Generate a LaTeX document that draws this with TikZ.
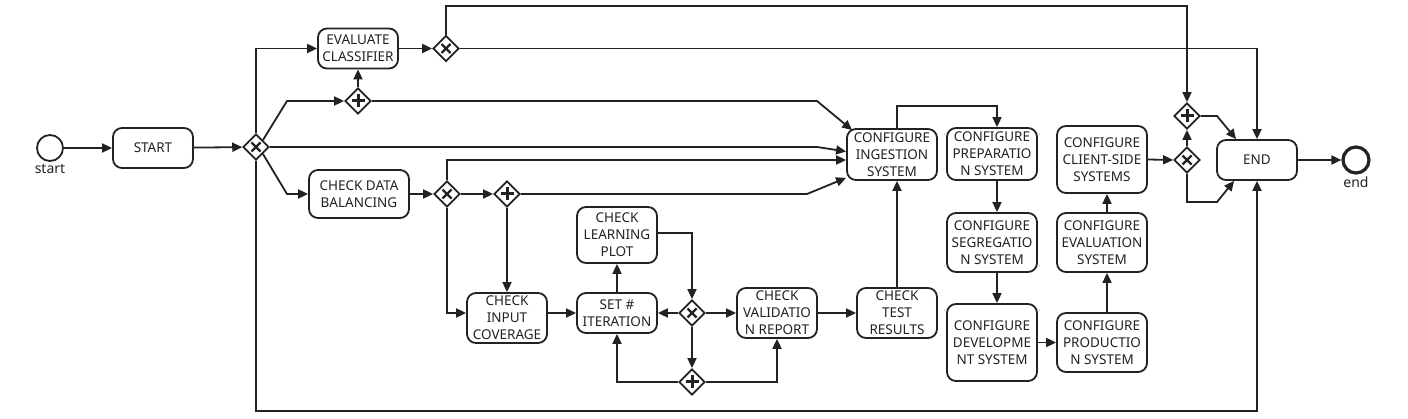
\documentclass[tikz,border=0pt]{standalone}
\usepackage{fontspec}
\setmainfont{Noto Sans}
\usetikzlibrary{arrows.meta,shapes.geometric}
\definecolor{ink}{RGB}{34,34,38}
\begin{document}
\begin{tikzpicture}[x=1pt,y=-1pt,
 task/.style={draw=ink,text=ink,line width=1.8pt,rounded corners=9pt,align=center,inner sep=0pt,font=\fontsize{13.5}{17}\selectfont,fill=white},
 gw/.style={draw=ink,diamond,line width=1.8pt,minimum width=26pt,minimum height=26pt,inner sep=0pt,fill=white},
 gwx/.style={gw,path picture={\draw[ink,line width=2.4pt] (path picture bounding box.center) ++(-4.5pt,-4.5pt) -- ++(9pt,9pt) (path picture bounding box.center) ++(-4.5pt,4.5pt) -- ++(9pt,-9pt);}},
 gwp/.style={gw,path picture={\draw[ink,line width=3pt] (path picture bounding box.center) ++(-6.5pt,0pt) -- ++(13pt,0pt) (path picture bounding box.center) ++(0pt,-6.5pt) -- ++(0pt,13pt);}},
 flow/.style={draw=ink,line width=1.8pt,-{Triangle[length=10pt,width=9pt]}},
 ev/.style={circle,draw=ink,line width=1.8pt,minimum size=26pt,inner sep=0pt,fill=white},
 evlabel/.style={text=ink,inner sep=0pt,font=\fontsize{14}{16}\selectfont},
]
\useasboundingbox (0,0) rectangle (1408,419);
\fill[white] (0,0) rectangle (1408,419);

% events
\node[ev] (st) at (50,148) {};
\node[evlabel,anchor=north] (stl) at ([yshift=-2pt]st.south) {start};
\node[ev,line width=3.2pt] (endc) at (1356,160) {};
\node[evlabel,anchor=north] (endl) at ([yshift=-2pt]endc.south) {end};

% tasks
\node[task,minimum width=80pt,minimum height=40pt] (START) at (153,148) {START};
\node[task,minimum width=80pt,minimum height=40pt] (EC) at (358,48.5) {EVALUATE\\CLASSIFIER};
\node[task,minimum width=100pt,minimum height=48pt] (CDB) at (359,194) {CHECK DATA\\BALANCING};
\node[task,minimum width=90pt,minimum height=51pt] (CI) at (892,154.5) {CONFIGURE\\INGESTION\\SYSTEM};
\node[task,minimum width=90pt,minimum height=52pt] (CP) at (992,154) {CONFIGURE\\PREPARATIO\\N SYSTEM};
\node[task,minimum width=90pt,minimum height=59pt] (CS) at (992,242.5) {CONFIGURE\\SEGREGATIO\\N SYSTEM};
\node[task,minimum width=90pt,minimum height=77pt] (CD) at (992,342.5) {CONFIGURE\\DEVELOPME\\NT SYSTEM};
\node[task,minimum width=90pt,minimum height=59pt] (CPR) at (1102,342.5) {CONFIGURE\\PRODUCTIO\\N SYSTEM};
\node[task,minimum width=90pt,minimum height=59pt] (CE) at (1102,242.5) {CONFIGURE\\EVALUATION\\SYSTEM};
\node[task,minimum width=90pt,minimum height=67pt] (CCS) at (1102,159.5) {CONFIGURE\\CLIENT-SIDE\\SYSTEMS};
\node[task,minimum width=80pt,minimum height=40pt] (END) at (1257,160) {END};
\node[task,minimum width=80pt,minimum height=50pt] (CIC) at (507,318) {CHECK\\INPUT\\COVERAGE};
\node[task,minimum width=80pt,minimum height=40pt] (SI) at (617,313) {SET \#\\ITERATION};
\node[task,minimum width=80pt,minimum height=56pt] (CLP) at (617,235) {CHECK\\LEARNING\\PLOT};
\node[task,minimum width=80pt,minimum height=50pt] (CVR) at (777,313) {CHECK\\VALIDATIO\\N REPORT};
\node[task,minimum width=80pt,minimum height=50pt] (CTR) at (897,313) {CHECK\\TEST\\RESULTS};

% gateways
\node[gwx] (X1) at (256,147) {};
\node[gwp] (P1) at (358,101) {};
\node[gwx] (X2) at (446,48.5) {};
\node[gwx] (X3) at (447,194) {};
\node[gwp] (P2) at (507,194) {};
\node[gwx] (X4) at (1187,160) {};
\node[gwp] (P3) at (1187,116) {};
\node[gwx] (X5) at (692,313) {};
\node[gwp] (P4) at (692,382) {};

\coordinate (bot) at (256,411);
\coordinate (top) at (446,6);

% flows
\draw[flow] (st) -- (START);
\draw[flow] (START) -- (X1);
\draw[flow] (X1.north) |- (EC.west);
\draw[flow] (X1.north east) -- (287,101) -- (P1.west);
\draw[flow] (X1.east) -- (817,147) -- ([yshift=3pt]CI.west);
\draw[flow] (X1.south east) -- (287,194) -- (CDB.west);
\draw[flow] (X1.south) -- (bot) -| (END.south);
\draw[flow] (P1.north) -- (EC.south);
\draw[flow] (EC.east) -- (X2.west);
\draw[flow] (X2.north) -- (top) -| (P3.north);
\draw[flow] (X2.east) -| (END.north);
\draw[flow] (P1.east) -- (817,101) -- ([xshift=6pt,yshift=-2pt]CI.north west);
\draw[flow] (CDB.east) -- (X3.west);
\draw[flow] (X3.north) |- ([yshift=-5.5pt]CI.west);
\draw[flow] (X3.east) -- (P2.west);
\draw[flow] (X3.south) |- ([yshift=5pt]CIC.west);
\draw[flow] (P2.south) -- (CIC.north);
\draw[flow] (P2.east) -- (807,194) -- ([yshift=3pt]CI.south west);
\draw[flow] ([xshift=5pt]CI.north) -- ++(0,-22) -| ([xshift=5pt]CP.north);
\draw[flow] ([xshift=5pt]CP.south) -- ([xshift=5pt]CS.north);
\draw[flow] ([xshift=5pt]CS.south) -- ([xshift=5pt]CD.north);
\draw[flow] (CD.east) -- (CPR.west);
\draw[flow] ([xshift=5pt]CPR.north) -- ([xshift=5pt]CE.south);
\draw[flow] ([xshift=5pt]CE.north) -- ([xshift=5pt]CCS.south);
\draw[flow] (CCS.east) -- (X4.west);
\draw[flow] (X4.north) -- (P3.south);
\draw[flow] (P3.east) -- (1217,116) -- ([xshift=20pt]END.north west);
\draw[flow] (X4.south) -- (1187,202) -- (1217,202) -- ([xshift=18pt]END.south west);
\draw[flow] (END) -- (endc);
\draw[flow] ([yshift=5pt]CIC.east) -- (SI.west);
\draw[flow] (SI.north) -- (CLP.south);
\draw[flow] ([yshift=2pt]CLP.east) -| (X5.north);
\draw[flow] (X5.west) -- (SI.east);
\draw[flow] (X5.east) -- (CVR.west);
\draw[flow] (X5.south) -- (P4.north);
\draw[flow] (P4.west) -| (SI.south);
\draw[flow] (P4.east) -| (CVR.south);
\draw[flow] (CVR.east) -- (CTR.west);
\draw[flow] (CTR.north) -- (CTR.north |- CI.south);
\end{tikzpicture}
\end{document}
